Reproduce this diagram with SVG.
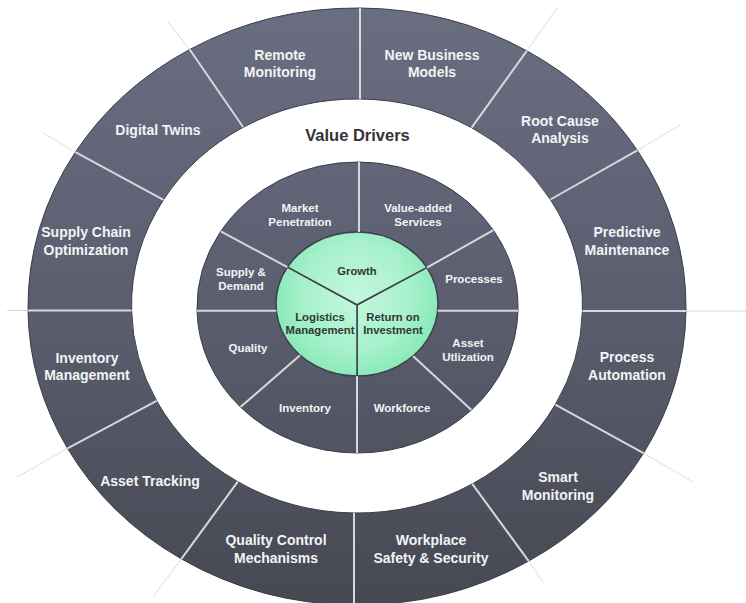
<svg xmlns="http://www.w3.org/2000/svg" width="746" height="603" viewBox="0 0 746 603">
<defs>
<linearGradient id="slate" gradientUnits="userSpaceOnUse" x1="0" y1="0" x2="0" y2="603">
<stop offset="0" stop-color="#6a6e81"/>
<stop offset="0.5" stop-color="#5b5e6f"/>
<stop offset="1" stop-color="#464852"/>
</linearGradient>
<radialGradient id="mint" gradientUnits="userSpaceOnUse" cx="357" cy="296" r="88">
<stop offset="0" stop-color="#c4f7de"/>
<stop offset="0.6" stop-color="#a8f1cc"/>
<stop offset="1" stop-color="#84e8b4"/>
</radialGradient>
<style>
.seg{fill:url(#slate);stroke:#3a3c47;stroke-width:1}
.core{fill:url(#mint);stroke:#3d414e;stroke-width:1.5;stroke-linejoin:round}
.div{stroke:#d6d8de;stroke-width:2;fill:none}
.ext{stroke:#e0e0e0;stroke-width:1.5;fill:none;stroke-dasharray:2 1}
.o{font-family:"Liberation Sans",Arial,sans-serif;font-weight:bold;font-size:14px;fill:#f3f3f5;text-anchor:middle}
.i{font-family:"Liberation Sans",Arial,sans-serif;font-weight:bold;font-size:11.5px;fill:#f3f3f5;text-anchor:middle}
.g{font-family:"Liberation Sans",Arial,sans-serif;font-weight:bold;font-size:11.3px;fill:#2e3a35;text-anchor:middle}
.t{font-family:"Liberation Sans",Arial,sans-serif;font-weight:bold;font-size:16.5px;fill:#333333;text-anchor:middle}
</style>
</defs>
<rect x="0" y="0" width="746" height="603" fill="#ffffff"/>

<!-- Outer ring nodes -->
<g id="new-business-models">
<path class="seg" d="M360,8 A329,298.5 0 0 1 526.8,50.8 L471.6,127.7 A225.5,207 0 0 0 360,99 Z"/>
<text class="o" x="432" y="60">New Business</text><text class="o" x="432" y="77">Models</text>
</g>
<g id="root-cause-analysis">
<path class="seg" d="M526.8,50.8 A329,298.5 0 0 1 637.3,150.3 L550.4,199.5 A225.5,207 0 0 0 471.6,127.7 Z"/>
<text class="o" x="560" y="126">Root Cause</text><text class="o" x="560" y="143">Analysis</text>
</g>
<g id="predictive-maintenance">
<path class="seg" d="M637.3,150.3 A329,298.5 0 0 1 686,311 L582.4,311 A225.5,207 0 0 0 550.4,199.5 Z"/>
<text class="o" x="627" y="237">Predictive</text><text class="o" x="627" y="255">Maintenance</text>
</g>
<g id="process-automation">
<path class="seg" d="M686,311 A329,298.5 0 0 1 643.5,453.2 L555.3,404.6 A225.5,207 0 0 0 582.4,311 Z"/>
<text class="o" x="627" y="362">Process</text><text class="o" x="627" y="380">Automation</text>
</g>
<g id="smart-monitoring">
<path class="seg" d="M643.5,453.2 A329,298.5 0 0 1 528.7,561.1 L472.3,483.9 A225.5,207 0 0 0 555.3,404.6 Z"/>
<text class="o" x="558" y="482">Smart</text><text class="o" x="558" y="500">Monitoring</text>
</g>
<g id="workplace-safety">
<path class="seg" d="M528.7,561.1 A329,298.5 0 0 1 354,605 L354,513 A225.5,207 0 0 0 472.3,483.9 Z"/>
<text class="o" x="431" y="545">Workplace</text><text class="o" x="431" y="563">Safety &amp; Security</text>
</g>
<g id="quality-control">
<path class="seg" d="M354,605 A329,298.5 0 0 1 181.4,558.9 L237.8,481.7 A225.5,207 0 0 0 354,513 Z"/>
<text class="o" x="276" y="545">Quality Control</text><text class="o" x="276" y="563">Mechanisms</text>
</g>
<g id="asset-tracking">
<path class="seg" d="M181.4,558.9 A329,298.5 0 0 1 67.5,448.3 L156.6,400.8 A225.5,207 0 0 0 237.8,481.7 Z"/>
<text class="o" x="150" y="486">Asset Tracking</text>
</g>
<g id="inventory-management">
<path class="seg" d="M67.5,448.3 A329,298.5 0 0 1 28,310.5 L131.6,310.5 A225.5,207 0 0 0 156.6,400.8 Z"/>
<text class="o" x="87" y="363">Inventory</text><text class="o" x="87" y="380">Management</text>
</g>
<g id="supply-chain-optimization">
<path class="seg" d="M28,310.5 A329,298.5 0 0 1 75.4,152.1 L163.5,199.8 A225.5,207 0 0 0 131.6,310.5 Z"/>
<text class="o" x="86" y="237">Supply Chain</text><text class="o" x="86" y="255">Optimization</text>
</g>
<g id="digital-twins">
<path class="seg" d="M75.4,152.1 A329,298.5 0 0 1 189.7,49.5 L243.2,127.3 A225.5,207 0 0 0 163.5,199.8 Z"/>
<text class="o" x="158" y="135">Digital Twins</text>
</g>
<g id="remote-monitoring">
<path class="seg" d="M189.7,49.5 A329,298.5 0 0 1 360,8 L360,99 A225.5,207 0 0 0 243.2,127.3 Z"/>
<text class="o" x="280" y="60">Remote</text><text class="o" x="280" y="77">Monitoring</text>
</g>

<g id="value-drivers-title">
<text class="t" x="357.5" y="141">Value Drivers</text>
</g>

<!-- Inner ring nodes -->
<g id="value-added-services">
<path class="seg" d="M359,162 A160.5,145.5 0 0 1 493.4,230.2 L426.9,267.6 A81,72 0 0 0 359,232 Z"/>
<text class="i" x="418" y="211.5">Value-added</text><text class="i" x="418" y="226">Services</text>
</g>
<g id="processes">
<path class="seg" d="M493.4,230.2 A160.5,145.5 0 0 1 518,310.7 L437.7,310.7 A81,72 0 0 0 426.9,267.6 Z"/>
<text class="i" x="474" y="282.5">Processes</text>
</g>
<g id="asset-utlization">
<path class="seg" d="M518,310.7 A160.5,145.5 0 0 1 471.4,410 L413,356 A81,72 0 0 0 437.7,310.7 Z"/>
<text class="i" x="468" y="346.5">Asset</text><text class="i" x="468" y="361">Utlization</text>
</g>
<g id="workforce">
<path class="seg" d="M471.4,410 A160.5,145.5 0 0 1 357,453 L357,376 A81,72 0 0 0 413,356 Z"/>
<text class="i" x="402" y="411.5">Workforce</text>
</g>
<g id="inventory">
<path class="seg" d="M357,453 A160.5,145.5 0 0 1 240.5,407.1 L300,355.2 A81,72 0 0 0 357,376 Z"/>
<text class="i" x="305" y="411.5">Inventory</text>
</g>
<g id="quality">
<path class="seg" d="M240.5,407.1 A160.5,145.5 0 0 1 197,310.7 L276.4,310.7 A81,72 0 0 0 300,355.2 Z"/>
<text class="i" x="248" y="352">Quality</text>
</g>
<g id="supply-demand">
<path class="seg" d="M197,310.7 A160.5,145.5 0 0 1 220.8,231.3 L287.4,267.2 A81,72 0 0 0 276.4,310.7 Z"/>
<text class="i" x="241" y="275.5">Supply &amp;</text><text class="i" x="241" y="289.5">Demand</text>
</g>
<g id="market-penetration">
<path class="seg" d="M220.8,231.3 A160.5,145.5 0 0 1 359,162 L359,232 A81,72 0 0 0 287.4,267.2 Z"/>
<text class="i" x="300" y="211.5">Market</text><text class="i" x="300" y="226">Penetration</text>
</g>

<!-- Core nodes -->
<g id="growth">
<path class="core" d="M287.4,267.2 A81,72 0 0 1 426.9,267.6 L357,305 Z"/>
<text class="g" x="357" y="274.5">Growth</text>
</g>
<g id="return-on-investment">
<path class="core" d="M426.9,267.6 A81,72 0 0 1 357,376 L357,305 Z"/>
<text class="g" x="393" y="320.5">Return on</text><text class="g" x="393" y="334">Investment</text>
</g>
<g id="logistics-management">
<path class="core" d="M357,376 A81,72 0 0 1 287.4,267.2 L357,305 Z"/>
<text class="g" x="320" y="320.5">Logistics</text><text class="g" x="320" y="334">Management</text>
</g>

<!-- Connectors / dividers -->
<g id="connectors">
<line class="div" x1="360" y1="8" x2="360" y2="99"/>
<line class="div" x1="189.7" y1="49.5" x2="243.2" y2="127.3"/>
<line class="div" x1="75.4" y1="152.1" x2="163.5" y2="199.8"/>
<line class="div" x1="28" y1="310.5" x2="131.6" y2="310.5"/>
<line class="div" x1="67.5" y1="448.3" x2="156.6" y2="400.8"/>
<line class="div" x1="181.4" y1="558.9" x2="237.8" y2="481.7"/>
<line class="div" x1="354" y1="605" x2="354" y2="513"/>
<line class="div" x1="528.7" y1="561.1" x2="472.3" y2="483.9"/>
<line class="div" x1="643.5" y1="453.2" x2="555.3" y2="404.6"/>
<line class="div" x1="686" y1="311" x2="582.4" y2="311"/>
<line class="div" x1="637.3" y1="150.3" x2="550.4" y2="199.5"/>
<line class="div" x1="526.8" y1="50.8" x2="471.6" y2="127.7"/>

<line class="div" x1="359" y1="162" x2="359" y2="232"/>
<line class="div" x1="493.4" y1="230.2" x2="426.9" y2="267.6"/>
<line class="div" x1="518" y1="310.7" x2="437.7" y2="310.7"/>
<line class="div" x1="471.4" y1="410" x2="413" y2="356"/>
<line class="div" x1="357" y1="453" x2="357" y2="376"/>
<line class="div" x1="240.5" y1="407.1" x2="300" y2="355.2"/>
<line class="div" x1="197" y1="310.7" x2="276.4" y2="310.7"/>
<line class="div" x1="220.8" y1="231.3" x2="287.4" y2="267.2"/>

<line class="ext" x1="189.7" y1="49.5" x2="168" y2="22"/>
<line class="ext" x1="75.4" y1="152.1" x2="43" y2="133"/>
<line x1="7" y1="310.5" x2="28" y2="310.5" stroke="#d8d8d8" stroke-width="1"/>
<line class="ext" x1="67.5" y1="448.3" x2="17" y2="477"/>
<line class="ext" x1="181.4" y1="558.9" x2="153" y2="597"/>
<line class="ext" x1="528.7" y1="561.1" x2="543" y2="582"/>
<line class="ext" x1="643.5" y1="453.2" x2="693" y2="482"/>
<line x1="686" y1="311" x2="746" y2="311" stroke="#d8d8d8" stroke-width="1"/>
<line class="ext" x1="637.3" y1="150.3" x2="680" y2="125"/>
<line class="ext" x1="526.8" y1="50.8" x2="558" y2="7"/>
</g>
</svg>
